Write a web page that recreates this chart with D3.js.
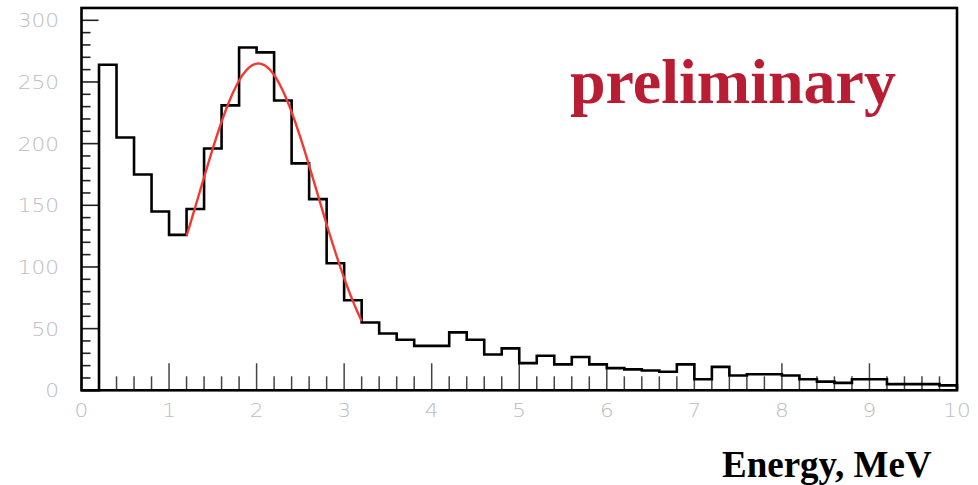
<!DOCTYPE html>
<html>
<head>
<meta charset="utf-8">
<script src="https://cdn.jsdelivr.net/npm/d3@7"></script>
<style>
  html, body { margin: 0; padding: 0; background: #fff; }
  svg { display: block; }
</style>
</head>
<body>
<svg id="chart" width="978" height="485"></svg>
<script>
// Energy spectrum: counts per 0.2 MeV bin, from 0 to 10 MeV
const binWidth = 0.2;
const binStarts = d3.range(0, 50).map(i => +(i * binWidth).toFixed(1));
const counts = [
  0, 264, 205, 175, 145, 126, 147, 196, 231, 278,
  274, 235, 184, 155, 103, 73, 55, 46, 41, 36,
  36, 47, 41, 29, 34, 22, 28, 21, 27, 21,
  18, 17, 16, 15, 21, 9, 19, 12, 13, 13,
  12, 9, 7, 6, 9, 9, 5, 5, 5, 4
];

// Gaussian fit to the photopeak, drawn over the fit range
const fitAmplitude = 265;
const fitMean = 2.02;
const fitSigma = 0.67;
const fitRange = [1.2, 3.2];

const xTickLabels = ["0", "1", "2", "3", "4", "5", "6", "7", "8", "9", "10"];
const yTickLabels = ["0", "50", "100", "150", "200", "250", "300"];

const xTitle = "Energy, MeV";
const stamp = "preliminary";

const svg = d3.select("#chart");

const x = d3.scaleLinear().domain([0, 10]).range([81.5, 957]);
const y = d3.scaleLinear().domain([0, 300]).range([390.3, 20.3]);
const yTop = 310;

// tick marks drawn inside the frame
const ticks = svg.append("g").attr("stroke", "#222").attr("fill", "none");

const xMinor = d3.range(0, 10.001, 0.2).map(v => +v.toFixed(1));
ticks.selectAll("line.xt").data(xMinor).join("line")
  .attr("class", "xt")
  .attr("x1", d => x(d)).attr("x2", d => x(d))
  .attr("y1", y(0))
  .attr("y2", d => Math.abs(d - Math.round(d)) < 1e-6 ? y(0) - 27 : y(0) - 14)
  .attr("stroke-width", 1.5)
  .attr("stroke", "#444");

const yMinor = d3.range(0, 310.001, 10);
ticks.selectAll("line.yt").data(yMinor).join("line")
  .attr("class", "yt")
  .attr("y1", d => y(d)).attr("y2", d => y(d))
  .attr("x1", x(0))
  .attr("x2", d => d % 50 === 0 ? x(0) + 17 : x(0) + 9)
  .attr("stroke-width", 1.6);

// histogram as a step outline
const stepPts = [[0, 0]];
counts.forEach((c, i) => {
  stepPts.push([binStarts[i], c]);
  stepPts.push([binStarts[i] + binWidth, c]);
});
stepPts.push([10, 0]);

const line = d3.line().x(d => x(d[0])).y(d => y(d[1]));
svg.append("path")
  .attr("d", line(stepPts))
  .attr("fill", "none")
  .attr("stroke", "#000")
  .attr("stroke-width", 2.6)
  .attr("stroke-linejoin", "miter");

// fit curve
const fitX = d3.range(fitRange[0], fitRange[1] + 1e-9, 0.02);
const gauss = v => fitAmplitude * Math.exp(-((v - fitMean) ** 2) / (2 * fitSigma * fitSigma));
svg.append("path")
  .attr("d", d3.line().x(d => x(d)).y(d => y(gauss(d)))(fitX))
  .attr("fill", "none")
  .attr("stroke", "#f23a32")
  .attr("stroke-width", 2.4);

// frame
svg.append("rect")
  .attr("x", x(0)).attr("y", y(yTop))
  .attr("width", x(10) - x(0)).attr("height", y(0) - y(yTop))
  .attr("fill", "none")
  .attr("stroke", "#000")
  .attr("stroke-width", 2.6);

// tick labels (wide, light digits)
const labelFont = "'DejaVu Sans', 'Liberation Sans', sans-serif";
const stretch = 1.14;
svg.append("g").selectAll("text").data(xTickLabels).join("text")
  .attr("transform", (d, i) => `translate(${x(i)},417) scale(${stretch},1)`)
  .attr("text-anchor", "middle")
  .attr("font-family", labelFont)
  .attr("font-weight", 200)
  .attr("font-size", 19)
  .attr("fill", "#bdbdbd")
  .text(d => d);

svg.append("g").selectAll("text").data(yTickLabels).join("text")
  .attr("transform", d => `translate(59,${y(+d) + 7}) scale(${stretch},1)`)
  .attr("text-anchor", "end")
  .attr("font-family", labelFont)
  .attr("font-weight", 200)
  .attr("font-size", 19)
  .attr("fill", "#bdbdbd")
  .text(d => d);

// axis title
svg.append("text")
  .attr("x", 722).attr("y", 477)
  .attr("font-family", "'Liberation Serif', 'Times New Roman', serif")
  .attr("font-weight", "bold")
  .attr("font-size", 37)
  .attr("fill", "#000")
  .text(xTitle);

// stamp
svg.append("text")
  .attr("x", 570).attr("y", 103)
  .attr("font-family", "'Liberation Serif', 'Times New Roman', serif")
  .attr("font-weight", "bold")
  .attr("font-size", 64)
  .attr("fill", "#b91d34")
  .text(stamp);
</script>
</body>
</html>
